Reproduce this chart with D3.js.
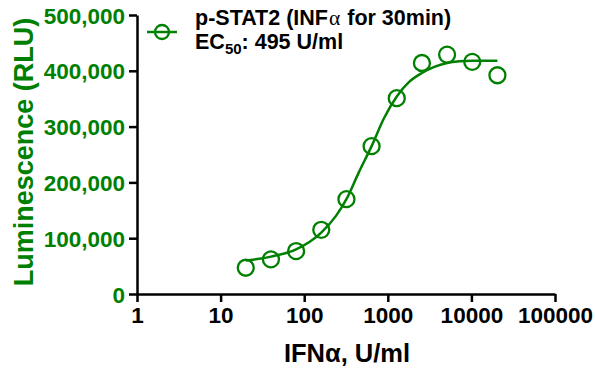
<!DOCTYPE html>
<html lang="en">
  <head>
    <script src="https://d3js.org/d3.v7.min.js"></script>
    <meta charset="utf-8">
    <title>p-STAT2 dose response</title>
    <style>
      body { margin: 0; background: #fff; }
      text { font-family: "Liberation Sans", Arial, sans-serif; font-weight: bold; }
    </style>
  </head>
  <body>
    <svg id="chart"></svg>
    <script type="text/javascript">

    // measured points
    var dose = [20, 40, 80, 160, 320, 640, 1280, 2560, 5120, 10240, 20480];
    var rlu = [47000, 62000, 77000, 115000, 170000, 265000, 351000, 414000, 429000, 416000, 392000];

    // fitted curve
    var fitDose = [20, 40, 80, 160, 240, 320, 450, 640, 900, 1280, 1800, 2560, 3600, 5120, 7200, 10240, 20480];
    var fitRlu = [60000, 67000, 80000, 110000, 140000, 170000, 218000, 265000, 315000, 354000, 380000, 396000, 407000, 414000, 417000, 418000, 418000];

    var yTicks = [0, 100000, 200000, 300000, 400000, 500000];
    var xTicks = [1, 10, 100, 1000, 10000, 100000];

    var green = "#008000";
    var width = 595, height = 370;
    var mLeft = 137, mRight = 555, mTop = 15, mBottom = 294;

    var svg = d3.select("#chart")
      .attr("width", width)
      .attr("height", height);

    var x = d3.scaleLog().domain([1, 100000]).range([mLeft, mRight]);
    var y = d3.scaleLinear().domain([0, 500000]).range([mBottom, mTop]);

    var xAxis = svg.append("g")
      .attr("transform", "translate(0," + mBottom + ")")
      .call(d3.axisBottom(x).tickValues(xTicks).tickFormat(d3.format("d")).tickSize(8).tickPadding(5).tickSizeOuter(0));
    xAxis.selectAll("text").attr("font-size", 22.5).attr("fill", "#000").attr("font-family", null);

    var yAxis = svg.append("g")
      .attr("transform", "translate(" + mLeft + ",0)")
      .call(d3.axisLeft(y).tickValues(yTicks).tickFormat(d3.format(",")).tickSize(8).tickPadding(4).tickSizeOuter(0));
    yAxis.selectAll("text").attr("font-size", 22.5).attr("fill", green).attr("font-family", null).attr("dy", "0.36em");

    svg.selectAll(".domain, .tick line").attr("stroke", "#000").attr("stroke-width", 2.5);

    // axis titles
    svg.append("text")
      .attr("x", 347)
      .attr("y", 362)
      .attr("text-anchor", "middle")
      .attr("font-size", 25.5)
      .text("IFNα, U/ml");

    svg.append("text")
      .attr("transform", "translate(33,152) rotate(-90)")
      .attr("text-anchor", "middle")
      .attr("font-size", 27)
      .attr("fill", green)
      .text("Luminescence (RLU)");

    // fitted curve
    var line = d3.line()
      .x(function(d) { return x(d[0]); })
      .y(function(d) { return y(d[1]); })
      .curve(d3.curveMonotoneX);

    svg.append("path")
      .datum(d3.zip(fitDose, fitRlu))
      .attr("d", line)
      .attr("fill", "none")
      .attr("stroke", green)
      .attr("stroke-width", 2.5);

    svg.selectAll("circle.pt")
      .data(d3.zip(dose, rlu))
      .enter()
      .append("circle")
      .attr("class", "pt")
      .attr("cx", function(d) { return x(d[0]); })
      .attr("cy", function(d) { return y(d[1]); })
      .attr("r", 8)
      .attr("fill", "none")
      .attr("stroke", green)
      .attr("stroke-width", 2.3);

    // legend
    var legend = svg.append("g");
    legend.append("line")
      .attr("x1", 147).attr("x2", 177)
      .attr("y1", 32).attr("y2", 32)
      .attr("stroke", green).attr("stroke-width", 2.5);
    legend.append("circle")
      .attr("cx", 162).attr("cy", 32).attr("r", 7)
      .attr("fill", "none").attr("stroke", green).attr("stroke-width", 2.3);

    var t1 = legend.append("text").attr("x", 195).attr("y", 25).attr("font-size", 21.5);
    t1.append("tspan").text("p-STAT2 (INF");
    t1.append("tspan").attr("font-weight", "normal").attr("font-family", "Liberation Serif, serif").attr("dx", 1).text("α");
    t1.append("tspan").attr("dx", 7).text("for 30min)");

    var t2 = legend.append("text").attr("x", 195).attr("y", 49).attr("font-size", 21.5);
    t2.append("tspan").text("EC");
    t2.append("tspan").attr("font-size", 15).attr("dy", 5).text("50");
    t2.append("tspan").attr("dy", -5).text(": 495 U/ml");

    </script>
  </body>
</html>
